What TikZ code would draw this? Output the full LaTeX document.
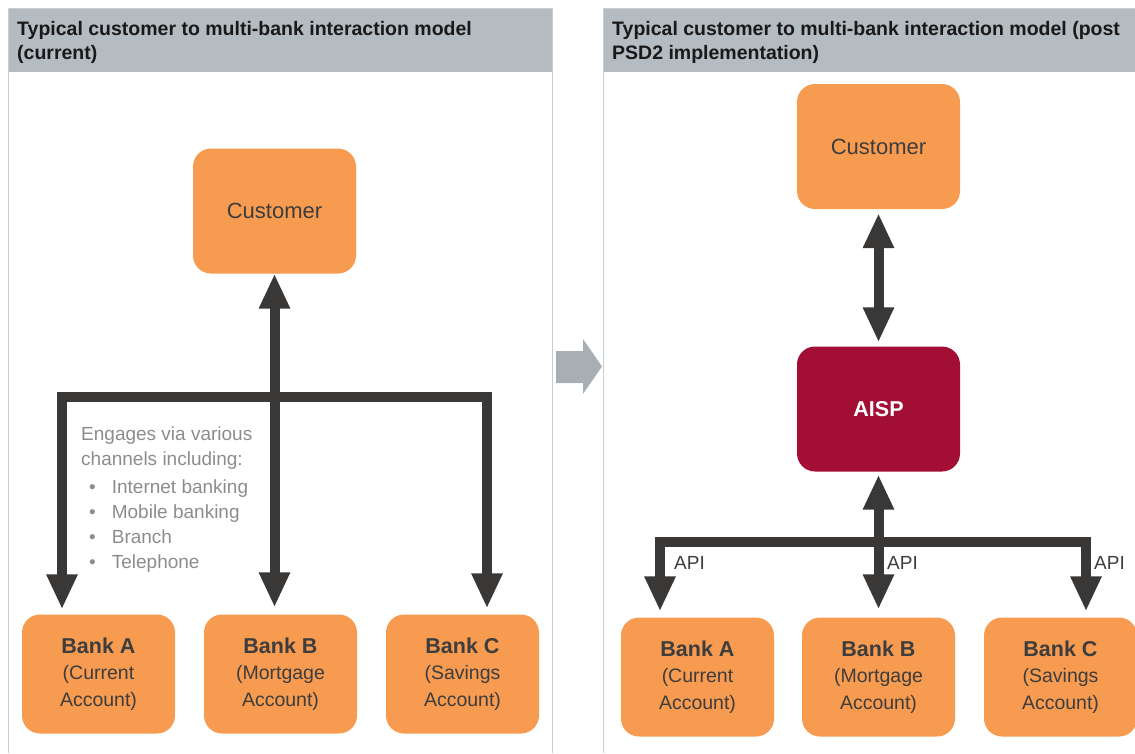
\documentclass[tikz,border=0pt]{standalone}
\usepackage{fontspec}
\setmainfont{Liberation Sans}
\usetikzlibrary{arrows.meta}
\definecolor{boxorange}{HTML}{F79B50}
\definecolor{aispred}{HTML}{A30E34}
\definecolor{arrowgrey}{HTML}{3A3836}
\definecolor{headgrey}{HTML}{B4BBC1}
\definecolor{framegrey}{HTML}{C9CED2}
\definecolor{stepgrey}{HTML}{A7AFB5}
\definecolor{textgrey}{HTML}{8C8C8C}
\definecolor{boxtext}{HTML}{3D3D3D}
\newcommand{\bankfont}{\fontsize{21.5}{26.5}\bfseries\selectfont}
\begin{document}
\begin{tikzpicture}[x=1pt,y=-1pt,
	>={Triangle[width=29pt,length=35pt]},
	box/.style={fill=boxorange,rounded corners=18pt,minimum width=153pt,minimum height=119pt,
		inner sep=0pt,align=center,text=boxtext,font=\fontsize{19.5}{26.5}\selectfont},
	bigbox/.style={box,minimum width=163pt,minimum height=125pt,font=\fontsize{22}{26}\selectfont},
	link/.style={draw=arrowgrey,line width=10pt},
	api/.style={anchor=west,inner sep=0pt,text=boxtext,font=\fontsize{19}{24}\selectfont},
	heading/.style={anchor=north west,inner sep=0pt,align=left,text=black!90,
		font=\fontsize{19.5}{24}\bfseries\selectfont}]
	\useasboundingbox (0,0) rectangle (1135,753);
	% panels
	\fill[headgrey] (8,8) rectangle (552,72);
	\fill[headgrey] (603,8) rectangle (1135,72);
	\draw[framegrey,line width=1pt] (8,753) -- (8,8) -- (552,8) -- (552,753);
	\draw[framegrey,line width=1pt] (603,753) -- (603,8) -- (1135,8);
	\node[heading] (head1) at (17,21) {Typical customer to multi-bank interaction model\\(current)};
	\node[heading] (head2) at (612,21) {Typical customer to multi-bank interaction model (post\\PSD2 implementation)};
	% step arrow between the panels
	\fill[stepgrey] (556,351) -- (583,351) -- (583,339) -- (602,366.5) -- (583,394) -- (583,383) -- (556,383) -- cycle;

	% current model
	\node[bigbox] (cust1) at (274.5,211) {Customer};
	\node[box] (bankA1) at (98.5,674) {{\bankfont Bank A}\\(Current\\Account)};
	\node[box] (bankB1) at (280.5,674) {{\bankfont Bank B}\\(Mortgage\\Account)};
	\node[box] (bankC1) at (462.5,674) {{\bankfont Bank C}\\(Savings\\Account)};
	\coordinate (split1) at (274.5,397);
	\draw[link,<->] (cust1.south) -- ([yshift=7pt]cust1.south |- bankB1.north);
	\draw[link,->] (split1) -| ([xshift=-36.5pt,yshift=5pt]bankA1.north);
	\draw[link,->] (split1) -| ([xshift=24.5pt,yshift=6pt]bankC1.north);
	\node[anchor=base west,inner sep=0pt,align=left,text=textgrey,font=\fontsize{19}{25}\selectfont] (channels) at (81,568)
		{Engages via various\\channels including:\\[3pt]
		\hspace*{8pt}\textbullet\hspace*{16pt}Internet banking\\
		\hspace*{8pt}\textbullet\hspace*{16pt}Mobile banking\\
		\hspace*{8pt}\textbullet\hspace*{16pt}Branch\\
		\hspace*{8pt}\textbullet\hspace*{16pt}Telephone};

	% post PSD2 model
	\node[bigbox] (cust2) at (878.5,146.5) {Customer};
	\node[bigbox,fill=aispred,text=white,font=\fontsize{21.5}{26}\bfseries\selectfont] (aisp) at (878.5,409) {AISP};
	\node[box] (bankA2) at (697.5,677) {{\bankfont Bank A}\\(Current\\Account)};
	\node[box] (bankB2) at (878.5,677) {{\bankfont Bank B}\\(Mortgage\\Account)};
	\node[box] (bankC2) at (1060.5,677) {{\bankfont Bank C}\\(Savings\\Account)};
	\coordinate (split2) at (878.5,542);
	\draw[link,<->] ([yshift=-4pt]cust2.south) -- ([yshift=4pt]aisp.north);
	\draw[link,<->] ([yshift=-3pt]aisp.south) -- ([yshift=8pt]bankB2.north);
	\draw[link,->] (split2) -| ([xshift=-37.5pt,yshift=6pt]bankA2.north);
	\draw[link,->] (split2) -| ([xshift=25.5pt,yshift=6pt]bankC2.north);
	\node[api] (api1) at (674,563) {API};
	\node[api] (api2) at (887,563) {API};
	\node[api] (api3) at (1094,563) {API};
\end{tikzpicture}
\end{document}
